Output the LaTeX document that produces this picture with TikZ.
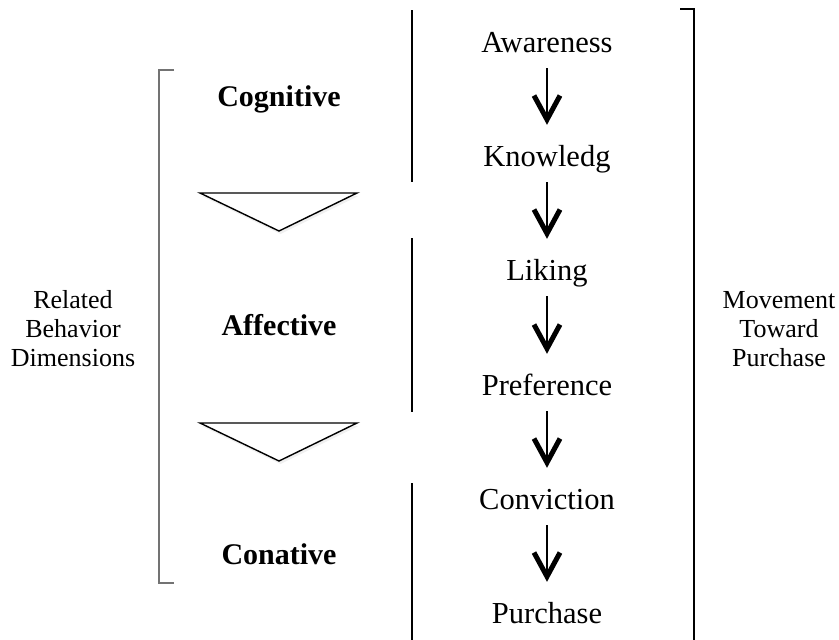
\documentclass[tikz,border=0pt]{standalone}
\usepackage{fontspec}
\setmainfont{Liberation Serif}
\usetikzlibrary{arrows.meta,shadows}
\tikzset{
  stage/.style={font=\fontsize{30.5}{36}\selectfont, inner sep=0pt, text height=21pt, text depth=7pt, anchor=base},
  dimlabel/.style={font=\bfseries\fontsize{30}{36}\selectfont, inner sep=0pt, anchor=base},
  side/.style={font=\fontsize{26}{29}\selectfont, align=center, inner sep=0pt},
  flow/.style={line width=2pt, -{Straight Barb[length=24pt,width=26pt,line width=5pt]}, shorten <=9pt, shorten >=20pt},
  divider/.style={line width=1.1pt, black},
  lbracket/.style={line width=1.6pt, black!55},
  rbracket/.style={line width=1.4pt, black},
  funnel/.style={line width=1.4pt, black, fill=white, line join=miter, drop shadow={opacity=0.12, shadow xshift=1.5pt, shadow yshift=-3pt}}
}
\begin{document}
\begin{tikzpicture}[x=1pt,y=-1pt]
\useasboundingbox (0,0) rectangle (839,640);
% stages
\node[stage] (aw) at (547,52) {Awareness};
\node[stage] (kn) at (547,166) {Knowledg};
\node[stage] (li) at (547,280) {Liking};
\node[stage] (pr) at (547,395) {Preference};
\node[stage] (co) at (547,509) {Conviction};
\node[stage] (pu) at (547,623) {Purchase};
\draw[flow] (aw) -- (kn);
\draw[flow] (kn) -- (li);
\draw[flow] (li) -- (pr);
\draw[flow] (pr) -- (co);
\draw[flow] (co) -- (pu);
% dimension labels
\node[dimlabel] (cog) at (279,106) {Cognitive};
\node[dimlabel] (aff) at (279,335) {Affective};
\node[dimlabel] (con) at (279,564) {Conative};
% dividers
\coordinate (d1a) at (412,10);  \coordinate (d1b) at (412,182);
\coordinate (d2a) at (412,238); \coordinate (d2b) at (412,412);
\coordinate (d3a) at (412,483); \coordinate (d3b) at (412,640);
\draw[divider] (d1a) -- (d1b);
\draw[divider] (d2a) -- (d2b);
\draw[divider] (d3a) -- (d3b);
% funnels
\draw[funnel] (200,193) -- (357,193) -- (279,231) -- cycle;
\draw[funnel] (200,423) -- (357,423) -- (279,461) -- cycle;
% brackets
\draw[lbracket] (174,70) -- (159,70) -- (159,583) -- (174,583);
\draw[rbracket] (680,9) -- (694,9) -- (694,640);
% side labels
\node[side] (rel) at (73,329) {Related\\Behavior\\Dimensions};
\node[side] (mov) at (779,329) {Movement\\Toward\\Purchase};
\end{tikzpicture}
\end{document}
